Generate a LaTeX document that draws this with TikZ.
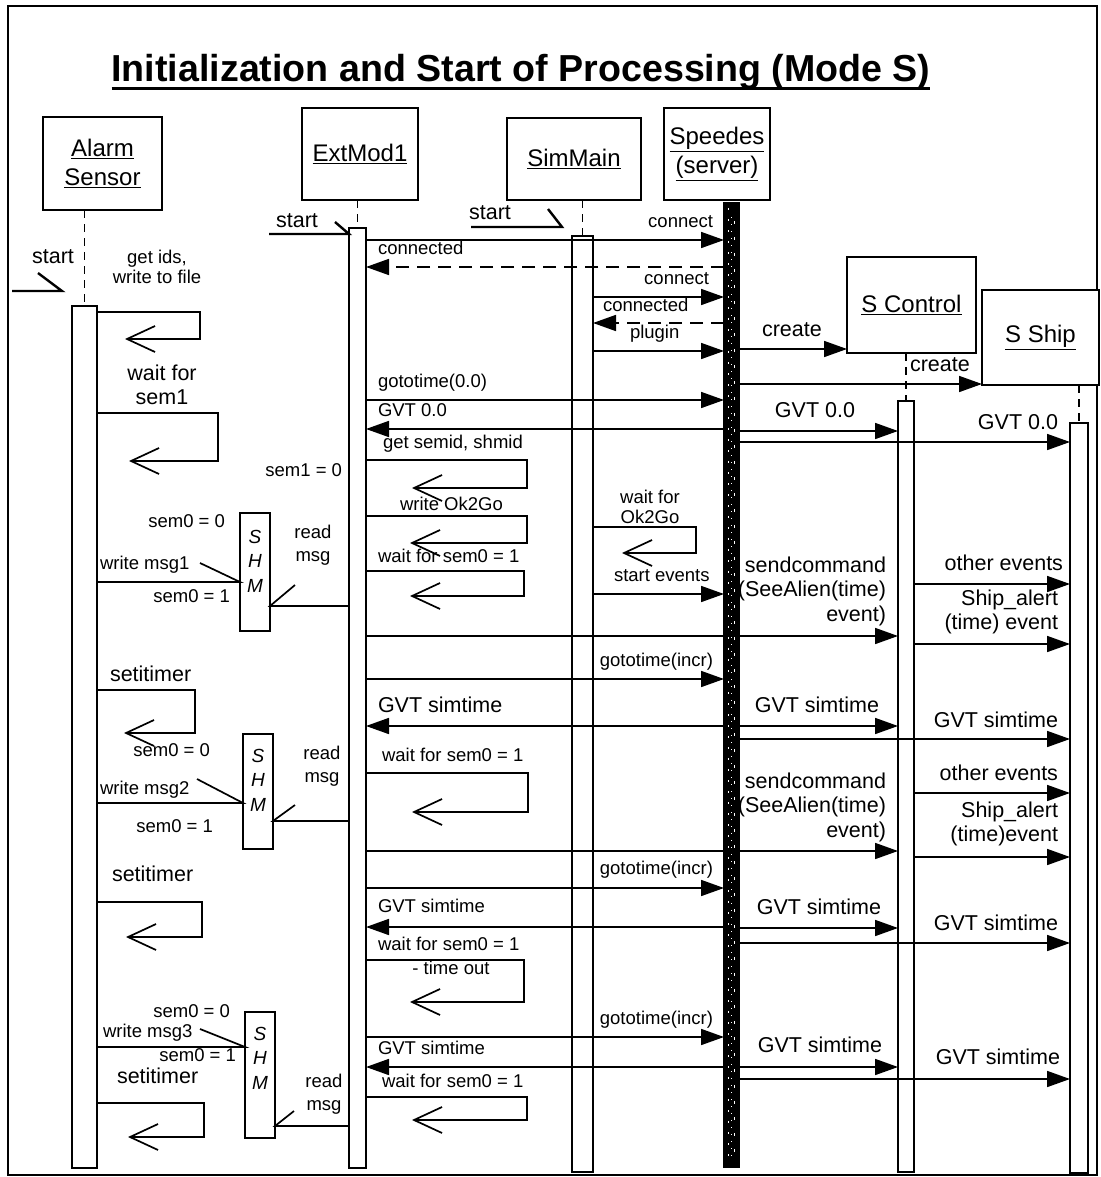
\documentclass[tikz,border=0pt]{standalone}
\usepackage{fontspec}
\setmainfont{Liberation Sans}
\usetikzlibrary{arrows.meta}
\begin{document}
\begin{tikzpicture}[x=1pt,y=-1pt,
  every node/.style={inner sep=0pt, outer sep=0pt},
  pbox/.style={draw, line width=1.9pt, fill=white, align=center, font=\fontsize{24}{29}\selectfont},
  actbar/.style={draw, line width=1.8pt, fill=white, anchor=north},
  life/.style={line width=1.7pt, dash pattern=on 8pt off 6pt},
  msg/.style={line width=1.7pt, -{Triangle[length=23pt,width=16pt]}},
  ret/.style={msg, dash pattern=on 13pt off 8pt},
  selfmsg/.style={line width=1.7pt, -{Straight Barb[length=28pt,width=26pt,line width=1.7pt]}},
  sm/.style={font=\fontsize{18.5}{23}\selectfont, text height=13pt, text depth=4pt},
  lg/.style={font=\fontsize{21.5}{25}\selectfont, text height=15.5pt, text depth=4.5pt},
  ml/.style={font=\fontsize{21.5}{24.5}\selectfont},
  mls/.style={font=\fontsize{18.5}{23}\selectfont, align=center},
  mlt/.style={font=\fontsize{18.5}{20.5}\selectfont, align=center},
  harp/.style={line width=1.7pt},
  sharp/.style={line width=2.4pt},
  shmbox/.style={draw, line width=1.7pt, fill=white, minimum width=30pt},
  shmtxt/.style={font=\fontsize{19}{24.5}\selectfont\itshape, align=center},
]
\useasboundingbox (0,0) rectangle (1100,1177);
\draw[line width=1.4pt] (8,6) rectangle (1097,1175);

% title
\node[font=\fontsize{37.6}{45}\selectfont\bfseries, anchor=base] (title) at (521,82)
  {Initialization and Start of Processing (Mode S)};
\draw[line width=3pt] ([yshift=-7pt]title.base west) -- ([yshift=-7pt]title.base east);

% participants
\node[pbox, minimum width=119pt, minimum height=93pt] (alarm) at (102.5,163.5) {\underline{Alarm}\\\underline{Sensor}};
\node[pbox, minimum width=116pt, minimum height=92pt] (ext) at (360,154) {\underline{ExtMod1}};
\node[pbox, minimum width=134pt, minimum height=82pt] (sim) at (574,159) {\underline{SimMain}};
\node[pbox, minimum width=106pt, minimum height=92pt] (spd) at (717,154) {\underline{Speedes}\\\underline{(server)}};
\node[pbox, minimum width=129pt, minimum height=96pt] (sctl) at (911.5,305) {\underline{S Control}};
\node[pbox, minimum width=117pt, minimum height=95pt] (sship) at (1040.5,337.5) {\underline{S Ship}};

% activation bars
\node[actbar, minimum width=25pt, minimum height=862pt] (abar) at (84.5,306) {};
\node[actbar, minimum width=17pt, minimum height=940pt] (ebar) at (357.5,228) {};
\node[actbar, minimum width=21pt, minimum height=936pt] (mbar) at (582.5,236) {};
\node[actbar, minimum width=15pt, minimum height=964pt, fill=black] (pbar) at (731.5,203) {};
\draw[white, line width=0.9pt, dash pattern=on 2pt off 9pt] (728,208) -- (728,1162);
\draw[white, line width=0.9pt, dash pattern=on 3pt off 13pt, dash phase=5pt] (734,210) -- (734,1160);
\draw[white, line width=0.7pt, dash pattern=on 1pt off 6pt, dash phase=2pt] (731,212) -- (731,1158);
\node[actbar, minimum width=16pt, minimum height=771pt] (cbar) at (906,401) {};
\node[actbar, minimum width=18pt, minimum height=750pt] (hbar) at (1079,423) {};

% lifelines
\draw[life] (abar.north |- alarm.south) -- (abar.north);
\draw[life] (ebar.north |- ext.south) -- (ebar.north);
\draw[life] (mbar.north |- sim.south) -- (mbar.north);
\draw[life] (cbar.north |- sctl.south) -- (cbar.north);
\draw[life] (hbar.north |- sship.south) -- (hbar.north);

% start harpoons
\coordinate (as0) at (12,291); \coordinate (as1) at (62,291);
\draw[sharp] (as0) -- (as1) -- (38,273);
\node[lg] (ls1) at (53,258) {start};
\coordinate (es0) at (269,234);
\draw[sharp] (es0) -- (ebar.west |- es0) -- (335,222);
\node[lg] (ls2) at (297,222) {start};
\coordinate (ms0) at (471,227); \coordinate (ms1) at (562,227);
\draw[sharp] (ms0) -- (ms1) -- (548,209);
\node[lg] (ls3) at (490,214) {start};

% connection phase
\draw[msg] (ebar.east |- 0,240) -- (pbar.west |- 0,240);
\node[sm, anchor=east] (l1) at (713,223) {connect};
\draw[ret] (pbar.west |- 0,267) -- (ebar.east |- 0,267);
\node[sm, anchor=west] (l2) at (378,250) {connected};
\draw[msg] (mbar.east |- 0,297) -- (pbar.west |- 0,297);
\node[sm, anchor=east] (l3) at (709,280) {connect};
\draw[ret] (pbar.west |- 0,323) -- (mbar.east |- 0,323);
\node[sm, anchor=west] (l4) at (603,307) {connected};
\draw[msg] (mbar.east |- 0,351) -- (pbar.west |- 0,351);
\node[sm, anchor=west] (l5) at (630,334) {plugin};
\draw[msg] (pbar.east |- 0,349) -- (sctl.west |- 0,349);
\node[lg, anchor=west] (l6) at (762,331) {create};
\draw[msg] (pbar.east |- 0,384) -- (sship.west |- 0,384);
\node[lg, anchor=west] (l7) at (910,366) {create};

\draw[msg] (ebar.east |- 0,400) -- (pbar.west |- 0,400);
\node[sm, anchor=west] (l8) at (378,383) {gototime(0.0)};
\draw[msg] (pbar.west |- 0,429) -- (ebar.east |- 0,429);
\node[sm, anchor=west] (l9) at (378,412) {GVT 0.0};
\draw[msg] (pbar.east |- 0,431) -- (cbar.west |- 0,431);
\node[lg, anchor=east] (l10) at (855,412) {GVT 0.0};
\draw[msg] (pbar.east |- 0,442) -- (hbar.west |- 0,442);
\node[lg, anchor=east] (l11) at (1058,424) {GVT 0.0};

% Alarm sensor loops
\node[mlt] (l12) at (157,267) {get ids,\\write to file};
\draw[selfmsg] (abar.east |- 0,312) -| (200,339) -- (125,339);
\node[ml, align=center] (l13) at (162,385) {wait for\\sem1};
\draw[selfmsg] (abar.east |- 0,413) -| (218,461) -- (129,461);

% ExtMod1 loops
\node[sm, anchor=west] (l14) at (383,444) {get semid, shmid};
\draw[selfmsg] (ebar.east |- 0,460) -| (527,488) -- (412,488);
\node[sm, anchor=east] (l15) at (342,472) {sem1 = 0};
\node[sm, anchor=west] (l16) at (400,506) {write Ok2Go};
\draw[selfmsg] (ebar.east |- 0,516) -| (527,543) -- (410,543);
\node[sm, anchor=west] (l17) at (378,558) {wait for sem0 = 1};
\draw[selfmsg] (ebar.east |- 0,571) -| (524,596) -- (410,596);

% SimMain loop
\node[mlt] (l18) at (650,507) {wait for\\Ok2Go};
\draw[selfmsg] (mbar.east |- 0,527) -| (696,553) -- (622,553);
\draw[msg] (mbar.east |- 0,594) -- (pbar.west |- 0,594);
\node[sm, anchor=west] (l19) at (614,577) {start events};

% SHM 1
\node[shmbox, minimum height=118pt] (shm1) at (255,572) {};
\node[shmtxt] (shm1t) at (255,561) {S\\H\\M};
\node[sm, anchor=east] (l20) at (225,523) {sem0 = 0};
\node[sm, anchor=west] (l21) at (100,565) {write msg1};
\node[sm, anchor=east] (l22) at (230,598) {sem0 = 1};
\draw[harp] (abar.east |- 0,582) -- (shm1.west |- 0,582) -- (200,563);
\node[mls] (l23) at (313,545) {read\\msg};
\draw[harp] (ebar.west |- 0,606) -- (shm1.east |- 0,606) -- (295,585);

% sendcommand 1
\node[ml, align=right, anchor=east] (l24) at (886,591) {sendcommand\\(SeeAlien(time)\\event)};
\draw[msg] (ebar.east |- 0,636) -- (cbar.west |- 0,636);
\node[lg, anchor=east] (l25) at (1063,565) {other events};
\draw[msg] (cbar.east |- 0,584) -- (hbar.west |- 0,584);
\node[ml, align=right, anchor=east] (l26) at (1058,612) {Ship\_alert\\(time) event};
\draw[msg] (cbar.east |- 0,644) -- (hbar.west |- 0,644);

% gototime incr 1
\draw[msg] (ebar.east |- 0,679) -- (pbar.west |- 0,679);
\node[sm, anchor=east] (l27) at (713,662) {gototime(incr)};
\draw[msg] (pbar.west |- 0,726) -- (ebar.east |- 0,726);
\node[lg, anchor=west] (l28) at (378,707) {GVT simtime};
\draw[msg] (pbar.east |- 0,726) -- (cbar.west |- 0,726);
\node[lg, anchor=east] (l29) at (879,707) {GVT simtime};
\draw[msg] (pbar.east |- 0,739) -- (hbar.west |- 0,739);
\node[lg, anchor=east] (l30) at (1058,722) {GVT simtime};

% setitimer 1
\node[lg, anchor=west] (l31) at (110,676) {setitimer};
\draw[selfmsg] (abar.east |- 0,690) -| (195,733) -- (124,733);

% SHM 2
\node[shmbox, minimum height=115pt] (shm2) at (258,791.5) {};
\node[shmtxt] (shm2t) at (258,780) {S\\H\\M};
\node[sm, anchor=east] (l32) at (210,752) {sem0 = 0};
\node[sm, anchor=west] (l33) at (100,790) {write msg2};
\node[sm, anchor=east] (l34) at (213,828) {sem0 = 1};
\draw[harp] (abar.east |- 0,803) -- (shm2.west |- 0,803) -- (197,779);
\node[mls] (l35) at (322,766) {read\\msg};
\draw[harp] (ebar.west |- 0,821) -- (shm2.east |- 0,821) -- (295,805);

\node[sm, anchor=west] (l36) at (382,757) {wait for sem0 = 1};
\draw[selfmsg] (ebar.east |- 0,773) -| (528,812) -- (412,812);

% sendcommand 2
\node[ml, align=right, anchor=east] (l37) at (886,807) {sendcommand\\(SeeAlien(time)\\event)};
\draw[msg] (ebar.east |- 0,851) -- (cbar.west |- 0,851);
\node[lg, anchor=east] (l38) at (1058,775) {other events};
\draw[msg] (cbar.east |- 0,793) -- (hbar.west |- 0,793);
\node[ml, align=right, anchor=east] (l39) at (1058,824) {Ship\_alert\\(time)event};
\draw[msg] (cbar.east |- 0,857) -- (hbar.west |- 0,857);

% gototime incr 2
\draw[msg] (ebar.east |- 0,888) -- (pbar.west |- 0,888);
\node[sm, anchor=east] (l40) at (713,870) {gototime(incr)};
\draw[msg] (pbar.west |- 0,927) -- (ebar.east |- 0,927);
\node[sm, anchor=west] (l41) at (378,908) {GVT simtime};
\draw[msg] (pbar.east |- 0,928) -- (cbar.west |- 0,928);
\node[lg, anchor=east] (l42) at (881,909) {GVT simtime};
\draw[msg] (pbar.east |- 0,943) -- (hbar.west |- 0,943);
\node[lg, anchor=east] (l43) at (1058,925) {GVT simtime};

\node[lg, anchor=west] (l44) at (112,876) {setitimer};
\draw[selfmsg] (abar.east |- 0,902) -| (202,937) -- (126,937);

\node[sm, anchor=west] (l45) at (378,946) {wait for sem0 = 1};
\node[sm] (l46) at (451,970) {- time out};
\draw[selfmsg] (ebar.east |- 0,960) -| (524,1002) -- (410,1002);

% gototime incr 3
\draw[msg] (ebar.east |- 0,1037) -- (pbar.west |- 0,1037);
\node[sm, anchor=east] (l47) at (713,1020) {gototime(incr)};
\draw[msg] (pbar.west |- 0,1067) -- (ebar.east |- 0,1067);
\node[sm, anchor=west] (l48) at (378,1050) {GVT simtime};
\draw[msg] (pbar.east |- 0,1067) -- (cbar.west |- 0,1067);
\node[lg, anchor=east] (l49) at (882,1047) {GVT simtime};
\draw[msg] (pbar.east |- 0,1079) -- (hbar.west |- 0,1079);
\node[lg, anchor=east] (l50) at (1060,1059) {GVT simtime};

% SHM 3
\node[shmbox, minimum height=126pt] (shm3) at (260,1075) {};
\node[shmtxt] (shm3t) at (260,1058) {S\\H\\M};
\node[sm, anchor=east] (l51) at (230,1013) {sem0 = 0};
\node[sm, anchor=west] (l52) at (103,1033) {write msg3};
\node[sm, anchor=east] (l53) at (236,1057) {sem0 = 1};
\draw[harp] (abar.east |- 0,1047) -- (shm3.west |- 0,1047) -- (200,1029);
\node[lg, anchor=west] (l54) at (117,1078) {setitimer};
\draw[selfmsg] (abar.east |- 0,1103) -| (204,1137) -- (128,1137);
\node[mls] (l55) at (324,1094) {read\\msg};
\draw[harp] (ebar.west |- 0,1126) -- (shm3.east |- 0,1126) -- (294,1111);

\node[sm, anchor=west] (l56) at (382,1083) {wait for sem0 = 1};
\draw[selfmsg] (ebar.east |- 0,1097) -| (527,1120) -- (412,1120);
\end{tikzpicture}
\end{document}
